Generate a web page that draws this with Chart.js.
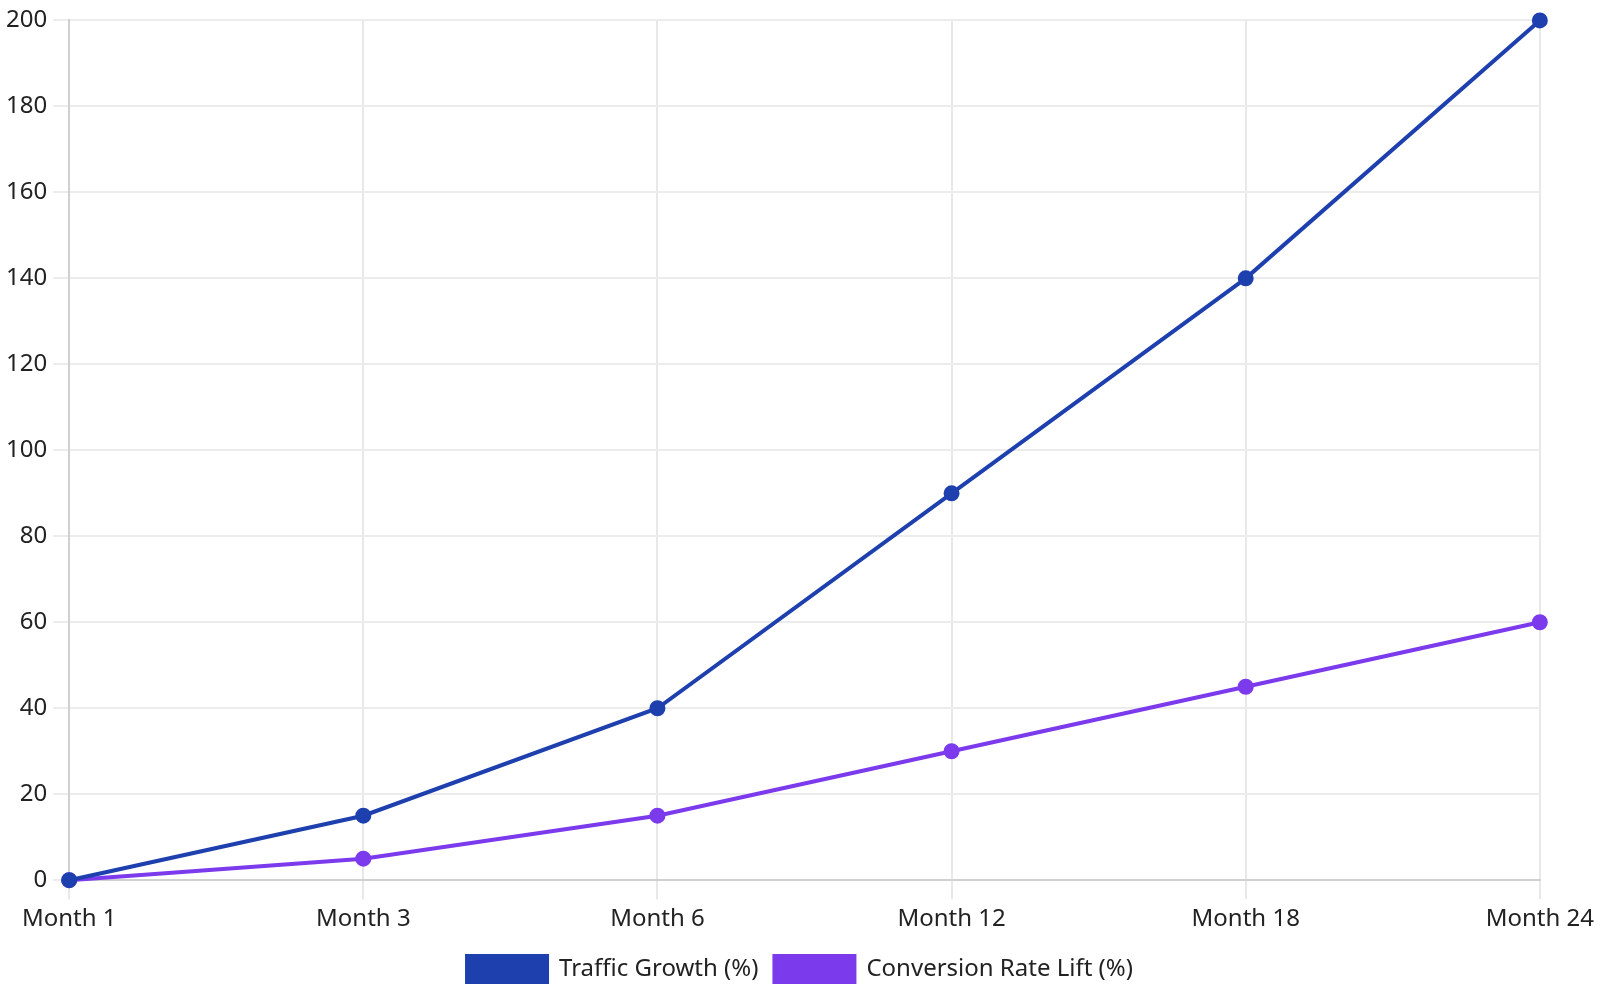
<!DOCTYPE html>
<html>
<head>
<meta charset="utf-8">
<script src="https://cdn.jsdelivr.net/npm/chart.js@4"></script>
<style>
  html, body { margin: 0; padding: 0; background: #fff; }
  #wrap { width: 1600px; height: 1000px; }
</style>
</head>
<body>
<div id="wrap"><canvas id="myChart"></canvas></div>
<script>
const labels = ['Month 1', 'Month 3', 'Month 6', 'Month 12', 'Month 18', 'Month 24'];
const trafficGrowth = [0, 15, 40, 90, 140, 200];
const conversionLift = [0, 5, 15, 30, 45, 60];

Chart.defaults.font.family = "'Noto Sans', 'Open Sans', sans-serif";
Chart.defaults.font.size = 24;
Chart.defaults.color = '#222';

const data = {
  labels: labels,
  datasets: [{
    label: 'Traffic Growth (%)',
    data: trafficGrowth,
    borderColor: '#1e40af',
    backgroundColor: '#1e40af',
    borderWidth: 4,
    pointRadius: 7,
    pointBorderWidth: 2,
    tension: 0,
    clip: false
  }, {
    label: 'Conversion Rate Lift (%)',
    data: conversionLift,
    borderColor: '#7c3aed',
    backgroundColor: '#7c3aed',
    borderWidth: 4,
    pointRadius: 7,
    pointBorderWidth: 2,
    tension: 0,
    clip: false
  }]
};

const config = {
  type: 'line',
  data: data,
  options: {
    responsive: true,
    maintainAspectRatio: false,
    animation: false,
    devicePixelRatio: 1,
    layout: { padding: { bottom: 8 } },
    plugins: {
      legend: {
        position: 'bottom',
        labels: { boxWidth: 80, boxHeight: 26, padding: 16 }
      },
      tooltip: { enabled: false }
    },
    scales: {
      x: {
        grid: { color: '#e8e8e8', lineWidth: 2, tickLength: 19 },
        border: { color: '#d0d0d0', width: 2 },
        ticks: { padding: 6 }
      },
      y: {
        min: 0,
        max: 200,
        ticks: { stepSize: 20, padding: 6 },
        grid: { color: '#ececec', lineWidth: 2, tickLength: 16 },
        border: { color: '#d0d0d0', width: 2 }
      }
    }
  }
};

new Chart(document.getElementById('myChart').getContext('2d'), config);
</script>
</body>
</html>
